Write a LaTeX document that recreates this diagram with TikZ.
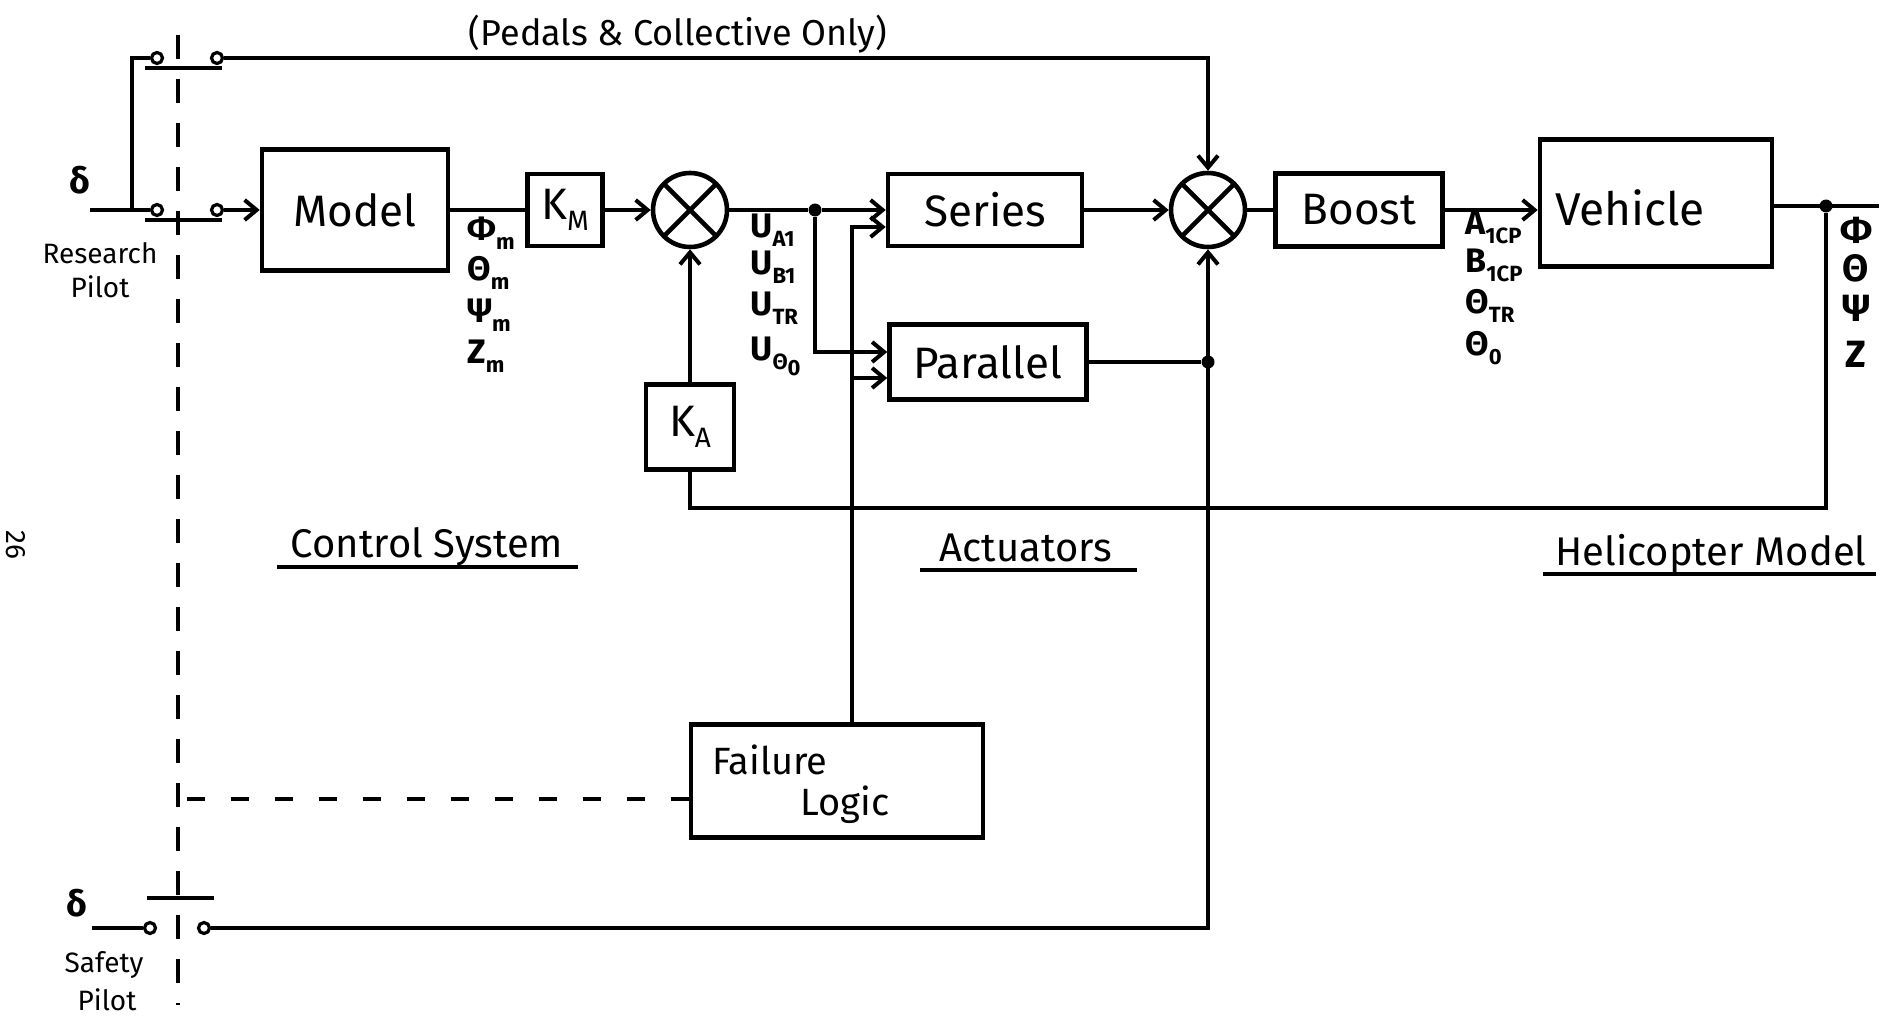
\documentclass[tikz,border=0pt]{standalone}
\usepackage{fontspec}
\setmainfont{Fira Sans}
\usetikzlibrary{arrows.meta,calc}
\newcommand{\lsub}[1]{\raisebox{-0.5ex}{\fontsize{11}{11}\selectfont #1}}
\newcommand{\bsub}[1]{\raisebox{-0.45ex}{\fontsize{14}{14}\selectfont #1}}
\begin{document}
\begin{tikzpicture}[x=0.5pt,y=-0.5pt,
  wire/.style={line width=2.1pt},
  arr/.style={wire,-{Straight Barb[length=6pt,width=10pt,line width=2pt]}},
  blk/.style={draw,line width=2.3pt,rectangle,inner sep=0pt,font=\fontsize{22}{24}\selectfont},
  sumj/.style={draw,line width=2.3pt,circle,minimum size=37pt,inner sep=0pt,
    path picture={\draw[line width=2.3pt] (path picture bounding box.north west) -- (path picture bounding box.south east)
      (path picture bounding box.north east) -- (path picture bounding box.south west);}},
  cont/.style={draw,circle,line width=1.6pt,minimum size=5.5pt,inner sep=0pt,fill=white},
  jdot/.style={circle,fill,minimum size=6.5pt,inner sep=0pt},
  lbl/.style={font=\fontsize{17}{18}\selectfont\bfseries,inner sep=0pt},
  sect/.style={font=\fontsize{20}{22}\selectfont,inner sep=0pt},
  small/.style={font=\fontsize{14}{15}\selectfont,inner sep=0pt},
  dashv/.style={line width=1.8pt,dash pattern=on 12pt off 10pt},
  dashh/.style={line width=1.8pt,dash pattern=on 9pt off 13pt},
]
\useasboundingbox (0,0) rectangle (1898,1022);

% blocks
\node[blk,minimum width=93pt,minimum height=60.5pt] (model) at (355,210) {Model};
\node[blk,minimum width=37.5pt,minimum height=36pt] (km) at (565,210) {K\bsub{M}};
\node[sumj] (s1) at (690,210) {};
\node[blk,minimum width=44pt,minimum height=42.5pt] (ka) at (690,427) {K\bsub{A}};
\node[blk,minimum width=97pt,minimum height=36pt] (series) at (985,210) {Series};
\node[blk,minimum width=98.5pt,minimum height=37.5pt] (par) at (988,362) {Parallel};
\node[sumj] (s2) at (1208,210) {};
\node[blk,minimum width=83.5pt,minimum height=36.5pt] (boost) at (1359,210) {Boost};
\node[blk,minimum width=116pt,minimum height=63.5pt] (veh) at (1656,203) {};
\node[font=\fontsize{23}{24}\selectfont,inner sep=0pt] (vehtxt) at (1630,208) {Vehicle};
\node[blk,minimum width=146pt,minimum height=56.5pt] (fail) at (837,781) {};
\node[font=\fontsize{19}{20}\selectfont,inner sep=0pt] (failt1) at (770,760) {Failure};
\node[font=\fontsize{19}{20}\selectfont,inner sep=0pt] (failt2) at (845,805) {Logic};

% junction dots
\node[jdot] (d1) at (815,210) {};
\node[jdot] (d2) at (1208,362) {};
\node[jdot] (d3) at (1826,206) {};

% switch contacts
\node[cont] (r1) at (157,58) {};
\node[cont] (r2) at (217,58) {};
\node[cont] (m1) at (157,210) {};
\node[cont] (m2) at (217,210) {};
\node[cont] (q1) at (150,928) {};
\node[cont] (q2) at (204,928) {};

% coordinates
\coordinate (rin) at (90,210);
\coordinate (rj) at (132,210);
\coordinate (b1a) at (145,68);
\coordinate (b1b) at (222,68);
\coordinate (b2a) at (145,220);
\coordinate (b2b) at (222,220);
\coordinate (sin) at (92,928);
\coordinate (b3a) at (147,898);
\coordinate (b3b) at (214,898);
\coordinate (dvt) at (178,35);
\coordinate (dvb) at (178,1005);
\coordinate (fw) at ($(fail.west)+(0,18)$);
\coordinate (p1) at ($(par.west)+(0,-10)$);
\coordinate (p2) at ($(par.west)+(0,16)$);
\coordinate (sw2) at ($(series.west)+(0,17)$);
\coordinate (fu) at ($(fail.north)+(15,0)$);
\coordinate (oe) at (1879,206);
\coordinate (fb) at (690,508);

% research pilot switches
\draw[wire] (rin) -- (m1.west);
\draw[wire] (rj) |- (r1.west);
\draw[wire] (b1a) -- (b1b);
\draw[wire] (b2a) -- (b2b);
\draw[arr] (m2.east) -- (model.west);
\draw[arr] (r2.east) -| (s2.north);

% safety pilot switch
\draw[wire] (sin) -- (q1.west);
\draw[wire] (b3a) -- (b3b);
\draw[arr] (q2.east) -| (s2.south);

% dashed mechanical links
\draw[dashv] (dvt) -- (dvb);
\draw[dashh] (fw) -- (fw -| dvt);

% signal path
\draw[wire] (model.east) -- (km.west);
\draw[arr] (km.east) -- (s1.west);
\draw[arr] (ka.north) -- (s1.south);
\draw[wire] (s1.east) -- (d1);
\draw[arr] (d1) -- (series.west);
\draw[arr] (d1) |- (p1);
\draw[arr] (fu) |- (sw2);
\draw[arr] (fu |- p2) -- (p2);
\draw[arr] (series.east) -- (s2.west);
\draw[wire] (s2.east) -- (boost.west);
\draw[arr] (boost.east) -- (boost.east -| veh.west);
\draw[wire] (veh.east |- d3) -- (oe);
\draw[wire] (d3) |- (fb) -- (ka.south);
\draw[wire] (par.east) -- (d2);

% signal labels
\node[lbl,anchor=west] (phm) at (467,233) {Φ\lsub{m}};
\node[lbl,anchor=west] (thm) at (467,273) {Θ\lsub{m}};
\node[lbl,anchor=west] (psm) at (467,315) {Ψ\lsub{m}};
\node[lbl,anchor=west] (zm) at (467,356) {Z\lsub{m}};
\node[lbl,anchor=west] (ua) at (750,230) {U\lsub{A1}};
\node[lbl,anchor=west] (ub) at (750,267) {U\lsub{B1}};
\node[lbl,anchor=west] (ut) at (750,308) {U\lsub{TR}};
\node[lbl,anchor=west] (uo) at (750,356) {U\lsub{Θ\lsub{0}}};
\node[lbl,anchor=west] (aicp) at (1465,227) {A\lsub{1CP}};
\node[lbl,anchor=west] (bicp) at (1465,265) {B\lsub{1CP}};
\node[lbl,anchor=west] (ttr) at (1465,306) {Θ\lsub{TR}};
\node[lbl,anchor=west] (t0) at (1465,348) {Θ\lsub{0}};
\node[lbl,font=\fontsize{19}{20}\selectfont\bfseries] (oph) at (1856,230) {Φ};
\node[lbl,font=\fontsize{19}{20}\selectfont\bfseries] (oth) at (1856,268) {Θ};
\node[lbl,font=\fontsize{19}{20}\selectfont\bfseries] (ops) at (1856,308) {Ψ};
\node[lbl,font=\fontsize{19}{20}\selectfont\bfseries] (oz) at (1856,354) {Z};

% pilot labels
\node[lbl,font=\fontsize{18}{19}\selectfont\bfseries] (dr) at (80,180) {δ};
\node[lbl,font=\fontsize{18}{19}\selectfont\bfseries] (ds) at (77,903) {δ};
\node[small] (rp1) at (100,253) {Research};
\node[small] (rp2) at (100,287) {Pilot};
\node[small] (sp1) at (104,965) {Safety};
\node[small] (sp2) at (107,1000) {Pilot};

% titles
\node[sect,font=\fontsize{18}{19}\selectfont] (top) at (678,34) {(Pedals \& Collective Only)};
\node[sect] (cs) at (427,547) {Control System};
\node[sect] (act) at (1026,548) {Actuators};
\node[sect] (hm) at (1711,554) {Helicopter Model};
\coordinate (cu1) at (277,567); \coordinate (cu2) at (578,567);
\coordinate (au1) at (920,570); \coordinate (au2) at (1137,570);
\coordinate (hu1) at (1543,574); \coordinate (hu2) at (1876,574);
\draw[wire] (cu1) -- (cu2);
\draw[wire] (au1) -- (au2);
\draw[wire] (hu1) -- (hu2);
\node[small,rotate=-90] (pg) at (16,545) {26};
\end{tikzpicture}
\end{document}
